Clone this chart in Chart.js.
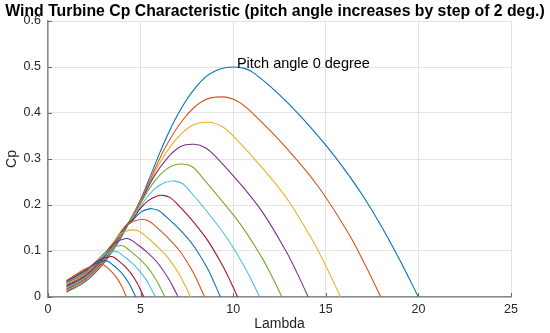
<!DOCTYPE html>
<html>
<head>
<meta charset="utf-8">
<script src="https://cdn.jsdelivr.net/npm/chart.js@4.4.1/dist/chart.umd.min.js"></script>
<style>
html,body{margin:0;padding:0;background:#fff;}
#wrap{width:550px;height:333px;position:relative;}
</style>
</head>
<body>
<div id="wrap"><canvas id="c" width="550" height="333"></canvas></div>
<script>
// Data: [lambda, Cp] per pitch angle (deg)
const pitchAngles = [0,2,4,6,8,10,12,14,16,18,20,22,24,26,28,30];
const beta0  = [[1,.011],[2,.033],[3,.073],[4,.133],[5,.212],[5.5,.26],[6,.31],[6.5,.356],[7,.396],[7.5,.43],[8,.457],[8.5,.478],[9,.491],[9.5,.498],[10.1,.5],[10.6,.497],[11,.49],[12,.458],[13,.42],[14,.377],[15,.33],[16,.278],[17,.22],[18,.154],[19,.08],[20,0]];
const beta2  = [[1,.013],[2,.035],[3,.075],[4.2,.151],[5.24,.23],[6.28,.321],[7.32,.387],[8.36,.426],[9.4,.435],[10.26,.425],[11.11,.397],[12.83,.326],[14.54,.243],[16.26,.136],[17.11,.071],[17.97,0]];
const beta4  = [[1,.015],[2,.037],[3,.077],[4.2,.152],[5.09,.214],[5.99,.288],[6.88,.341],[7.78,.373],[8.67,.38],[9.38,.371],[10.1,.346],[11.52,.283],[12.95,.211],[14.37,.117],[15.08,.061],[15.8,0]];
const beta6  = [[1,.017],[2,.039],[3,.079],[4.2,.152],[4.94,.201],[5.68,.259],[6.42,.301],[7.16,.327],[7.9,.332],[8.52,.324],[9.13,.302],[10.36,.247],[11.59,.184],[12.82,.102],[13.44,.053],[14.05,0]];
const beta8  = [[1,.019],[2,.041],[3,.081],[4.2,.153],[4.82,.19],[5.44,.234],[6.06,.266],[6.68,.285],[7.3,.289],[7.83,.282],[8.37,.258],[9.43,.207],[10.5,.152],[11.56,.085],[12.1,.044],[12.63,0]];
const beta10 = [[1,.021],[2,.043],[3,.083],[4.2,.153],[4.73,.18],[5.26,.212],[5.79,.236],[6.32,.249],[6.85,.252],[7.31,.245],[7.77,.225],[8.68,.181],[9.6,.132],[10.51,.073],[10.97,.038],[11.43,0]];
const beta12 = [[1,.023],[2,.045],[3,.085],[4.2,.154],[4.6,.17],[5,.193],[5.4,.209],[5.8,.218],[6.2,.221],[6.6,.216],[7.01,.201],[7.82,.165],[8.62,.123],[9.43,.068],[9.84,.035],[10.24,0]];
const beta14 = [[1,.025],[2,.047],[3,.087],[4.2,.154],[4.48,.162],[4.76,.175],[5.04,.185],[5.32,.19],[5.6,.192],[5.97,.188],[6.34,.176],[7.08,.148],[7.83,.113],[8.57,.065],[8.94,.034],[9.31,0]];
const beta16 = [[1,.027],[2,.049],[3,.089],[4.2,.155],[4.65,.165],[5.1,.169],[5.44,.165],[5.77,.155],[6.44,.13],[7.12,.1],[7.79,.057],[8.12,.03],[8.46,0]];
const beta18 = [[1,.029],[2,.051],[3,.091],[3.8,.133],[4.2,.143],[4.6,.146],[4.91,.143],[5.22,.134],[5.84,.112],[6.46,.086],[7.08,.05],[7.39,.026],[7.7,0]];
const beta20 = [[1,.031],[2,.053],[3,.093],[3.6,.117],[4.2,.127],[4.48,.124],[4.77,.116],[5.33,.098],[5.9,.075],[6.46,.043],[6.75,.022],[7.03,0]];
const beta22 = [[1,.032],[2,.055],[3,.093],[3.5,.107],[3.9,.112],[4.14,.11],[4.38,.102],[4.86,.086],[5.35,.066],[5.83,.038],[6.07,.02],[6.31,0]];
const beta24 = [[1,.033],[2,.056],[3,.091],[3.6,.099],[3.82,.097],[4.04,.09],[4.48,.076],[4.92,.058],[5.36,.034],[5.58,.017],[5.8,0]];
const beta26 = [[1,.034],[2,.057],[2.8,.081],[3.4,.088],[3.58,.086],[3.76,.08],[4.11,.068],[4.47,.052],[4.82,.03],[5,.015],[5.18,0]];
const beta28 = [[1,.035],[2,.059],[2.6,.073],[3.1,.079],[3.26,.077],[3.43,.072],[3.76,.061],[4.08,.047],[4.41,.027],[4.57,.014],[4.74,0]];
const beta30 = [[1,.036],[2,.061],[2.5,.068],[2.9,.071],[3.03,.069],[3.17,.065],[3.43,.055],[3.7,.042],[3.96,.025],[4.1,.013],[4.23,0]];
const curves = [beta0,beta2,beta4,beta6,beta8,beta10,beta12,beta14,beta16,beta18,beta20,beta22,beta24,beta26,beta28,beta30];
const xTicks = [0,5,10,15,20,25];
const yTicks = [0,0.1,0.2,0.3,0.4,0.5,0.6];
const titleText = 'Wind Turbine Cp Characteristic (pitch angle increases by step of 2 deg.)';
const annotText = 'Pitch angle 0 degree';
const annotAt = [10.2, 0.5];

const palette = ['#0072BD','#D95319','#EDB120','#7E2F8E','#77AC30','#4DBEEE','#A2142F'];
const FONT = '"Liberation Sans", Arial, Helvetica, sans-serif';

const datasets = curves.map((pts, i) => ({
  label: 'Pitch ' + pitchAngles[i] + ' deg',
  data: pts.map(p => ({x: p[0], y: p[1]})),
  borderColor: palette[i % 7],
  backgroundColor: palette[i % 7],
  borderWidth: 1.1,
  pointRadius: 0,
  fill: false,
  tension: 0.35,
  order: curves.length - i
}));

const extras = {
  id: 'extras',
  afterDraw(chart) {
    const ctx = chart.ctx;
    const xs = chart.scales.x, ys = chart.scales.y;
    ctx.save();
    ctx.strokeStyle = '#666';
    ctx.lineWidth = 1;
    xTicks.forEach(v => {
      const px = Math.round(xs.getPixelForValue(v)) + 0.5;
      ctx.beginPath(); ctx.moveTo(px, ys.bottom); ctx.lineTo(px, ys.bottom - 4); ctx.stroke();
    });
    yTicks.forEach(v => {
      const py = Math.round(ys.getPixelForValue(v)) + 0.5;
      ctx.beginPath(); ctx.moveTo(xs.left, py); ctx.lineTo(xs.left + 4, py); ctx.stroke();
    });
    ctx.fillStyle = '#000';
    ctx.font = 'bold 15.8px ' + FONT;
    ctx.textAlign = 'center';
    ctx.textBaseline = 'middle';
    ctx.fillText(titleText, 275, 12);
    ctx.font = '14.5px ' + FONT;
    ctx.textAlign = 'left';
    ctx.textBaseline = 'alphabetic';
    ctx.fillText(annotText, xs.getPixelForValue(annotAt[0]), ys.getPixelForValue(annotAt[1]) + 1);
    ctx.restore();
  }
};

new Chart(document.getElementById('c'), {
  type: 'line',
  data: { datasets },
  options: {
    responsive: false,
    animation: false,
    events: [],
    layout: { padding: { top: 21, right: 39, left: 0, bottom: 0 } },
    plugins: { legend: { display: false }, title: { display: false }, tooltip: { enabled: false } },
    scales: {
      x: {
        type: 'linear', min: 0, max: 25,
        afterBuildTicks(scale) { scale.ticks = xTicks.map(v => ({value: v})); },
        afterFit(scale) { scale.height = 36; },
        grid: { color: '#e3e3e3', lineWidth: 1, drawTicks: false },
        border: { color: '#8a8a8a', width: 1.5 },
        ticks: { padding: 5, color: '#262626', font: { family: FONT, size: 12.5 }, maxRotation: 0 },
        title: { display: true, text: 'Lambda', color: '#262626', font: { family: FONT, size: 14 }, padding: { top: 0, bottom: 0 } }
      },
      y: {
        type: 'linear', min: 0, max: 0.6,
        afterBuildTicks(scale) { scale.ticks = yTicks.map(v => ({value: v})); },
        afterFit(scale) { scale.width = 48; },
        grid: { color: '#e3e3e3', lineWidth: 1, drawTicks: false },
        border: { color: '#8a8a8a', width: 1.5 },
        ticks: { padding: 7, color: '#262626', font: { family: FONT, size: 12.5 }, callback: v => String(+(+v).toFixed(1)) },
        title: { display: true, text: 'Cp', color: '#262626', font: { family: FONT, size: 14 }, padding: { top: 4, bottom: 0 } }
      }
    }
  },
  plugins: [extras]
});
</script>
</body>
</html>
